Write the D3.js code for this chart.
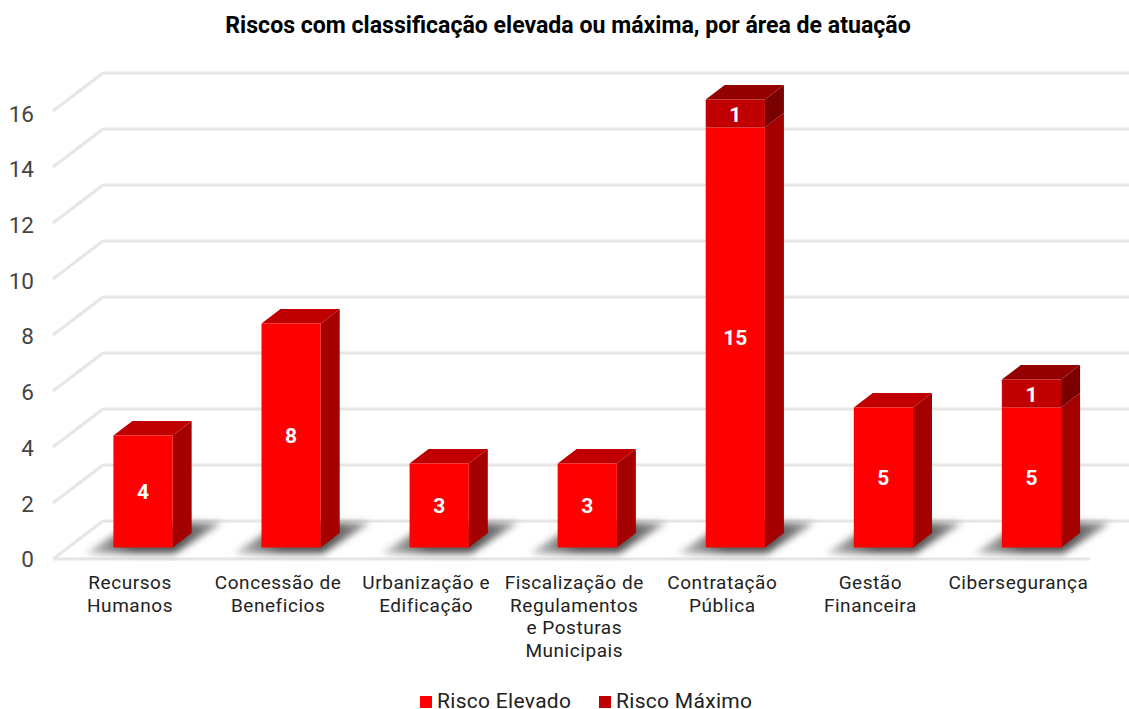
<!DOCTYPE html>
<html>
<head>
<meta charset="utf-8">
<script src="https://cdnjs.cloudflare.com/ajax/libs/d3/7.8.5/d3.min.js"></script>
<style>
  html, body { margin: 0; padding: 0; background: #fff; overflow: hidden; }
  text { font-family: Roboto, sans-serif; }
</style>
</head>
<body>
<div id="Grafica"></div>
<script>
// datos
const categorias = ["Recursos Humanos", "Concessão de Beneficios", "Urbanização e Edificação", "Fiscalização de Regulamentos e Posturas Municipais", "Contratação Pública", "Gestão Financeira", "Cibersegurança"];
const lineas = [["Recursos", "Humanos"], ["Concessão de", "Beneficios"], ["Urbanização e", "Edificação"], ["Fiscalização de", "Regulamentos", "e Posturas", "Municipais"], ["Contratação", "Pública"], ["Gestão", "Financeira"], ["Cibersegurança"]];
const riscoElevado = [4, 8, 3, 3, 15, 5, 5];
const riscoMaximo = [0, 0, 0, 0, 1, 0, 1];
const ticks = [0, 2, 4, 6, 8, 10, 12, 14, 16];
const series = ["Risco Elevado", "Risco Máximo"];

const WidthCaja = 1129;
const HeightCaja = 709;
const dx = 19, dy = -14.5; // profundidad de la barra

const svg = d3.select("#Grafica").append("svg")
  .attr("width", WidthCaja)
  .attr("height", HeightCaja);

const defs = svg.append("defs");
defs.append("filter").attr("id", "blur")
  .attr("x", "-30%").attr("y", "-50%").attr("width", "160%").attr("height", "200%")
  .append("feGaussianBlur").attr("stdDeviation", 3.5);
const grad = defs.append("linearGradient").attr("id", "sombra");
grad.append("stop").attr("offset", "0%").attr("stop-color", "#ccc");
grad.append("stop").attr("offset", "35%").attr("stop-color", "#555");
grad.append("stop").attr("offset", "70%").attr("stop-color", "#555");
grad.append("stop").attr("offset", "100%").attr("stop-color", "#aaa");

const x = d3.scaleBand().domain(categorias).range([69, 1105.5]).paddingInner(0.6).paddingOuter(0.3);
const y = d3.scaleLinear().domain([0, 16]).range([547.5, 99.5]);
const yEtiqueta = d3.scaleLinear().domain([0, 16]).range([559.5, 114]);
const bw = x.bandwidth();

// rejilla
const grid = svg.append("g").attr("fill", "none").attr("stroke", "#e6e6e6").attr("stroke-width", 3);
grid.selectAll("path.back").data(ticks).enter().append("path")
  .attr("class", "back")
  .attr("d", (d) => `M53,${y(d) + 11.5}L103,${y(d) - 26.5}L1129,${y(d) - 26.5}`);
grid.append("line").attr("x1", 53).attr("x2", 1090).attr("y1", y(0) + 11.5).attr("y2", y(0) + 11.5);

// sombras
svg.append("g").selectAll("polygon").data(categorias).enter().append("polygon")
  .attr("points", (d) => {
    const a = x(d);
    return [[a - 28, y(0) + 6], [a + bw + 2, y(0) + 6], [a + bw + 50, y(0) - 25], [a + 20, y(0) - 25]].join(" ");
  })
  .attr("fill", "url(#sombra)")
  .attr("filter", "url(#blur)");

// caja 3d
const caja = (g, xi, y0, y1, front, side, top) => {
  g.append("polygon")
    .attr("points", [[xi + bw, y1], [xi + bw + dx, y1 + dy], [xi + bw + dx, y0 + dy], [xi + bw, y0]].join(" "))
    .attr("fill", side);
  if (top) {
    g.append("polygon")
      .attr("points", [[xi, y1], [xi + dx, y1 + dy], [xi + bw + dx, y1 + dy], [xi + bw, y1]].join(" "))
      .attr("fill", top);
  }
  g.append("rect").attr("x", xi).attr("y", y1).attr("width", bw).attr("height", y0 - y1).attr("fill", front);
};

const barras = svg.append("g");
categorias.forEach((c, i) => {
  const g = barras.append("g");
  const e = riscoElevado[i], m = riscoMaximo[i];
  caja(g, x(c), y(0), y(e), "#ff0000", "#a50000", m > 0 ? null : "#c00000");
  if (m > 0) caja(g, x(c), y(e), y(e + m), "#c00000", "#7a0000", "#930000");

  const et = g.append("g")
    .attr("fill", "#fff")
    .attr("font-size", 21)
    .attr("font-weight", 700)
    .attr("text-anchor", "middle");
  et.append("text")
    .attr("x", x(c) + bw / 2)
    .attr("y", (y(0) + y(e)) / 2 + 7.5)
    .text(e);
  if (m > 0) {
    et.append("text")
      .attr("x", x(c) + bw / 2)
      .attr("y", (y(e) + y(e + m)) / 2 + 8)
      .text(m);
  }
});

// eje y
const ejeY = svg.append("g")
  .attr("transform", "translate(34,0)")
  .call(d3.axisLeft(yEtiqueta).tickValues(ticks).tickSize(0).tickPadding(0));
ejeY.select(".domain").remove();
ejeY.selectAll("text").attr("font-size", 22.5).attr("fill", "#444").style("font-family", "Roboto, sans-serif");

// etiquetas de categoria
const ejeX = svg.append("g")
  .attr("font-size", 19)
  .attr("letter-spacing", 0.55)
  .attr("fill", "#222")
  .attr("text-anchor", "middle");
categorias.forEach((c, i) => {
  const t = ejeX.append("text");
  lineas[i].forEach((l, j) => {
    t.append("tspan")
      .attr("x", x(c) + bw / 2 - 13)
      .attr("y", 589 + j * 22.7)
      .text(l);
  });
});

// titulo
svg.append("text")
  .attr("x", 568).attr("y", 33)
  .attr("text-anchor", "middle")
  .attr("font-size", 23.1)
  .attr("font-weight", 700)
  .attr("fill", "#000")
  .text("Riscos com classificação elevada ou máxima, por área de atuação");

// leyenda
const leyenda = svg.append("g").selectAll("g").data(series).enter().append("g")
  .attr("transform", (d, i) => `translate(${i === 0 ? 420 : 599},696)`);
leyenda.append("rect").attr("width", 12).attr("height", 12)
  .attr("fill", (d, i) => (i === 0 ? "#ff0000" : "#c00000"));
leyenda.append("text").attr("x", 17).attr("y", 12)
  .attr("font-size", 21).attr("letter-spacing", 0.3).attr("fill", "#222").text((d) => d);
</script>
</body>
</html>
